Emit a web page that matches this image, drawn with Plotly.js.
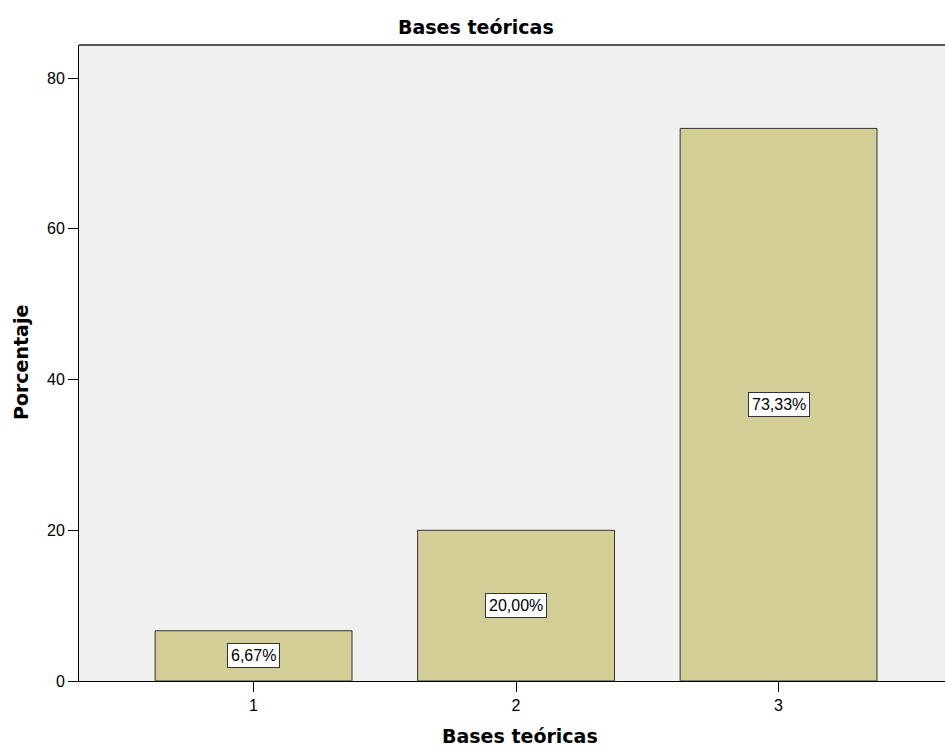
<!DOCTYPE html>
<html>
<head>
<meta charset="utf-8">
<script src="https://cdn.plot.ly/plotly-3.0.1.min.js"></script>
<style>html,body{margin:0;padding:0;background:#fff;}#chart{width:945px;height:749px;}</style>
</head>
<body>
<div id="chart"></div>
<script>
const categories = [1, 2, 3];
const tickLabels = ["1", "2", "3"];
const percentages = [6.67, 20.00, 73.33];
const valueLabels = ["6,67%", "20,00%", "73,33%"];
const chartTitle = "Bases teóricas";
const xTitle = "Bases teóricas";
const yTitle = "Porcentaje";

const tickFont = {family: "Arial, Liberation Sans, sans-serif", size: 16, color: "#000"};
const titleFont = {family: "DejaVu Sans, sans-serif", size: 19, color: "#000"};

const trace = {
  type: "bar",
  x: categories,
  y: percentages,
  width: 0.75,
  marker: {color: "#D2CE96", line: {color: "#333333", width: 1}},
  hoverinfo: "none"
};

const annotations = categories.map((c, i) => ({
  x: c, y: percentages[i] / 2, xref: "x", yref: "y",
  text: valueLabels[i], showarrow: false,
  font: {family: "Arial, Liberation Sans, sans-serif", size: 16, color: "#000"},
  bgcolor: "#ffffff", bordercolor: "#333333", borderwidth: 1, borderpad: 3
}));

annotations.push(
  {text: "<b>" + chartTitle + "</b>", xref: "paper", yref: "paper", x: 0.458, y: (681 - 27) / 636,
   xanchor: "center", yanchor: "middle", showarrow: false, font: titleFont, borderpad: 0},
  {text: "<b>" + xTitle + "</b>", xref: "paper", yref: "paper", x: (520 - 79) / 866, y: (681 - 736) / 636,
   xanchor: "center", yanchor: "middle", showarrow: false, font: titleFont, borderpad: 0},
  {text: "<b>" + yTitle + "</b>", xref: "paper", yref: "paper", x: (21 - 79) / 866, y: 0.5,
   xanchor: "center", yanchor: "middle", showarrow: false, textangle: -90, font: titleFont, borderpad: 0}
);

const layout = {
  width: 945, height: 749,
  margin: {l: 79, r: 0, t: 45, b: 68},
  paper_bgcolor: "#ffffff",
  plot_bgcolor: "#F0F0F0",
  showlegend: false,
  xaxis: {
    range: [0.335, 3.634], tickvals: categories, ticktext: tickLabels,
    showgrid: false, zeroline: false, showline: true, linecolor: "#000", linewidth: 1,
    ticks: "outside", ticklen: 10, tickcolor: "#000", tickwidth: 1,
    tickfont: tickFont
  },
  yaxis: {
    range: [0, 84.4], tickvals: [0, 20, 40, 60, 80],
    showgrid: false, zeroline: false, showline: true, linecolor: "#000", linewidth: 1,
    ticks: "outside", ticklen: 10, tickcolor: "#000", tickwidth: 1,
    tickfont: tickFont
  },
  shapes: [{type: "line", xref: "paper", yref: "paper", x0: 0, x1: 1, y0: 1, y1: 1,
            line: {color: "#555555", width: 2}}],
  annotations: annotations
};

Plotly.newPlot("chart", [trace], layout, {displayModeBar: false, staticPlot: true});
</script>
</body>
</html>
